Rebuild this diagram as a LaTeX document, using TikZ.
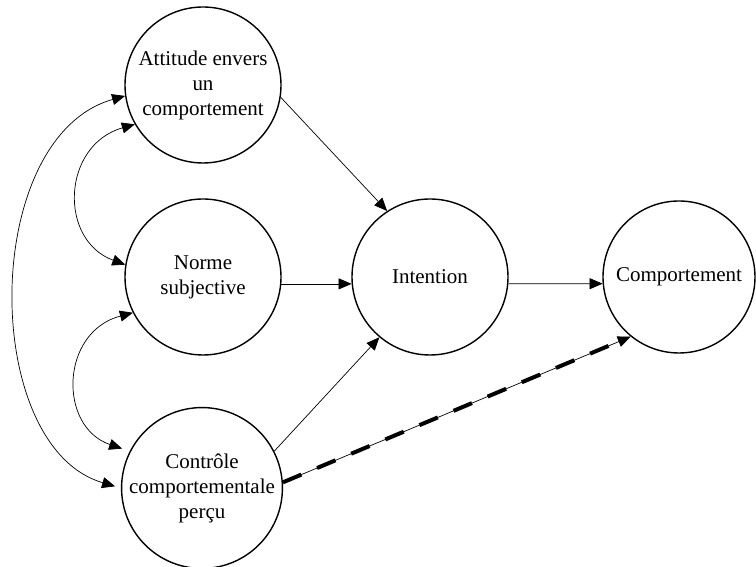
\documentclass[tikz,border=0pt]{standalone}
\usepackage{fontspec}
\setmainfont{Liberation Serif}
\usetikzlibrary{arrows.meta}
\begin{document}
\begin{tikzpicture}[x=1pt,y=1pt,
  circ/.style={circle, draw, line width=1.4pt, minimum size=156pt, inner sep=0pt, align=center, font=\fontsize{21}{25}\selectfont},
  conn/.style={line width=0.7pt, -{Triangle[length=13pt,width=11pt]}},
  dconn/.style={line width=0.7pt, {Triangle[length=13pt,width=11pt]}-{Triangle[length=13pt,width=11pt]}},
  thickdash/.style={line width=4pt, dash pattern=on 20pt off 17pt}]
\useasboundingbox (0,0) rectangle (756,567);
\node[circ] (A) at (203,482) {Attitude envers\\un\\comportement};
\node[circ] (N) at (203,290) {Norme\\subjective};
\node[circ] (C) at (202,79) {Contrôle\\comportementale\\perçu};
\node[circ] (I) at (430,290) {Intention};
\node[circ, minimum size=152pt] (B) at (679,290) {Comportement};
\draw[conn] (A.-9) -- (I.123);
\draw[conn] (N.-5) -- (I.185);
\draw[conn] (I.-5) -- (B.185);
\draw[conn] (C.27) -- (I.230);
\draw[conn] (C.4) -- (B.231);
\draw[thickdash, shorten >=14pt] (C.4) -- (B.231);
\draw[dconn] (A.210) .. controls (62,422) and (58,327) .. (N.171);
\draw[dconn, shorten >=8pt] (N.207) .. controls (60,235) and (58,140) .. (C.153);
\draw[dconn, shorten >=6pt] (A.188) .. controls (-20,430) and (-20,120) .. (C.180);
\end{tikzpicture}
\end{document}
